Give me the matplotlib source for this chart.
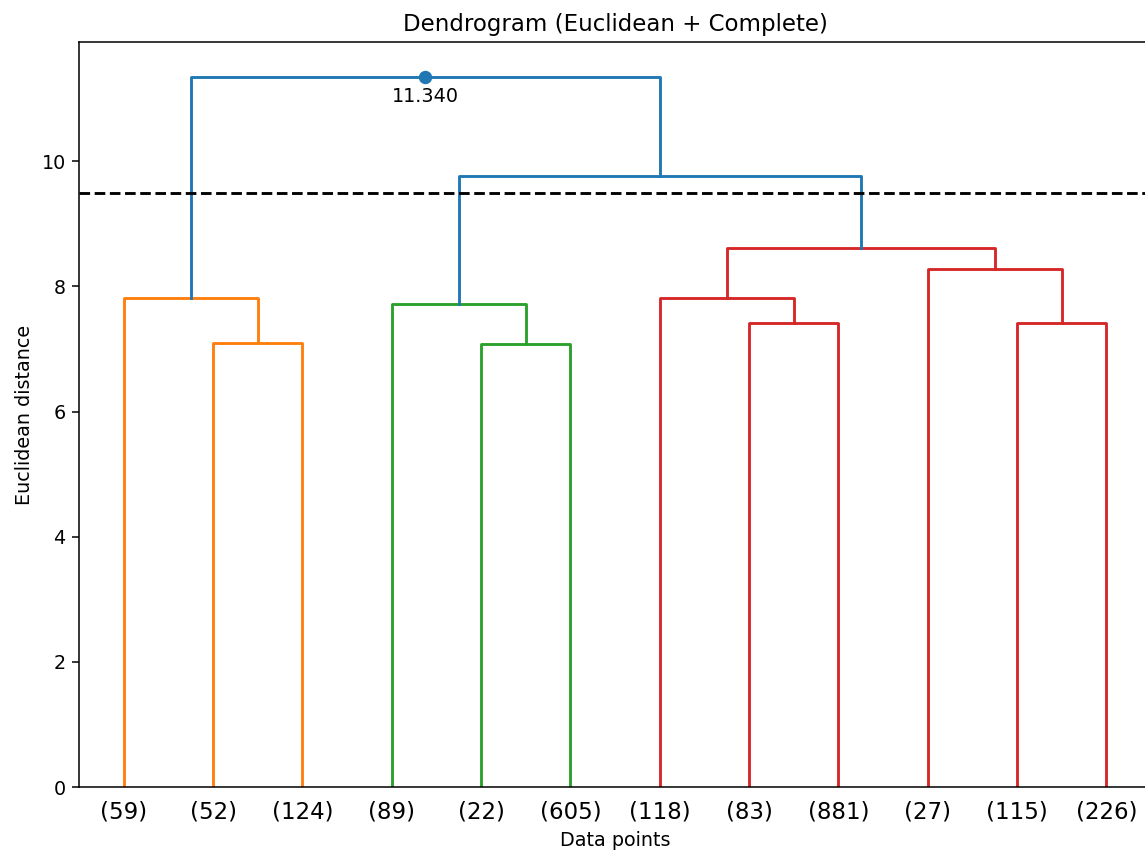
import matplotlib.pyplot as plt

# cluster sizes shown at the truncated leaves
leaf_labels = ['(59)', '(52)', '(124)', '(89)', '(22)', '(605)',
               '(118)', '(83)', '(881)', '(27)', '(115)', '(226)']

# merges as (left node, right node, height); new nodes get ids 12, 13, ...
merges = [(1, 2, 7.10), (0, 12, 7.81),
          (4, 5, 7.08), (3, 14, 7.72),
          (7, 8, 7.42), (6, 16, 7.81),
          (10, 11, 7.42), (9, 18, 8.28),
          (17, 19, 8.61),
          (15, 20, 9.76), (13, 21, 11.34)]
merge_colors = ['C1', 'C1', 'C2', 'C2', 'C3', 'C3', 'C3', 'C3', 'C3', 'C0', 'C0']

cut_height = 9.5
annotate_above = 10

dpi = 137.5
fig = plt.figure(figsize=(1145 / dpi, 853 / dpi), dpi=dpi)
ax = fig.add_axes([79 / 1145, 1 - 787 / 853, (1151 - 79) / 1145, (787 - 42) / 853])

n = len(leaf_labels)
xpos = {i: 10 * i + 5 for i in range(n)}
ypos = {i: 0.0 for i in range(n)}

for k, ((a, b, h), c) in enumerate(zip(merges, merge_colors)):
    node = n + k
    xs = [xpos[a], xpos[a], xpos[b], xpos[b]]
    ys = [ypos[a], h, h, ypos[b]]
    ax.plot(xs, ys, color=c, lw=1.5)
    xpos[node] = (xpos[a] + xpos[b]) / 2
    ypos[node] = h
    if h > annotate_above:
        ax.plot(xpos[node], h, 'o', c=c)
        ax.annotate('%.3f' % h, (xpos[node], h), xytext=(0, -5),
                    textcoords='offset points', va='top', ha='center')

ax.axhline(y=cut_height, color='k', linestyle='--')

ax.set_xlim(0, 10 * n)
ax.set_ylim(0, max(m[2] for m in merges) * 1.05)
ax.set_xticks([xpos[i] for i in range(n)])
ax.set_xticklabels(leaf_labels, fontsize=12)
for line in ax.get_xticklines():
    line.set_visible(False)

ax.set_title('Dendrogram (Euclidean + Complete)', fontsize=12)
ax.set_xlabel('Data points')
ax.set_ylabel('Euclidean distance')

plt.savefig('out.png', dpi=dpi)
